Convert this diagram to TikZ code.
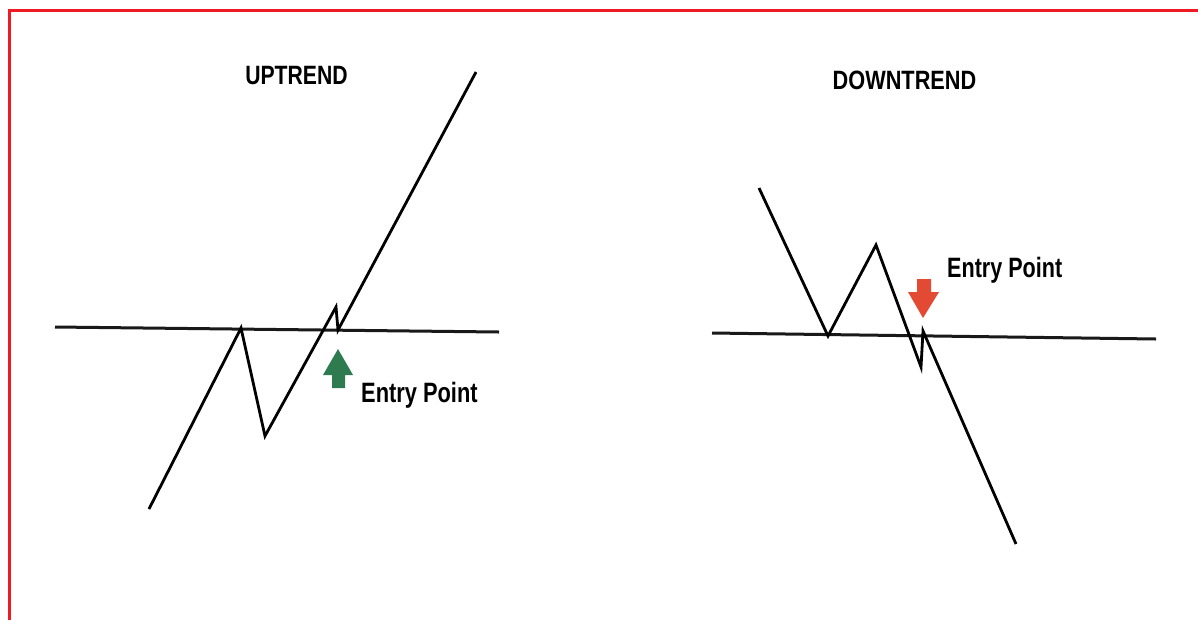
\documentclass[tikz,border=0pt]{standalone}
\usepackage{fontspec}
\setmainfont{Liberation Sans}
\definecolor{frame}{HTML}{F01A22}
\definecolor{upgreen}{HTML}{2E7B50}
\definecolor{downred}{HTML}{E24A33}
\begin{document}
\begin{tikzpicture}[x=1pt,y=-1pt,
  trend/.style={line width=2.8pt,line join=miter,black},
  level/.style={line width=3pt,black!90},
  title/.style={inner sep=0pt,font=\bfseries\fontsize{26.5}{30}\selectfont},
  entry/.style={inner sep=0pt,anchor=base west,font=\bfseries\fontsize{28}{32}\selectfont}]
\useasboundingbox (0,0) rectangle (1198,619);
\fill[white] (0,0) rectangle (1198,619);
% frame
\draw[frame,line width=3pt] (9,625) -- (9,10) -- (1205,10);
% uptrend
\coordinate (ua) at (149,509);
\coordinate (ub) at (241,328);
\coordinate (uc) at (265,436);
\coordinate (ud) at (336,307);
\coordinate (ue) at (338,330);
\coordinate (uf) at (476,72);
\coordinate (ul1) at (55,327);
\coordinate (ul2) at (499,332);
\draw[level] (ul1) -- (ul2);
\draw[trend] (ua) -- (ub) -- (uc) -- (ud) -- (ue) -- (uf);
\fill[upgreen] (338,349) -- (353,375) -- (345,375) -- (345,388) -- (332,388) -- (332,375) -- (323,375) -- cycle;
\node[title,anchor=base] (ut) at (296.5,84) {\scalebox{0.8}[1]{UPTREND}};
\node[entry] (ue1) at (361,402) {\scalebox{0.78}[1]{Entry Point}};
% downtrend
\coordinate (da) at (759,188);
\coordinate (db) at (828,336);
\coordinate (dc) at (876,245);
\coordinate (dd) at (921,367);
\coordinate (de) at (923,331);
\coordinate (df) at (1016,544);
\coordinate (dl1) at (712,333);
\coordinate (dl2) at (1156,339);
\draw[level] (dl1) -- (dl2);
\draw[trend] (da) -- (db) -- (dc) -- (dd) -- (de) -- (df);
\fill[downred] (923,318) -- (939,292) -- (931,292) -- (931,279) -- (917,279) -- (917,292) -- (908,292) -- cycle;
\node[title,anchor=base] (dt) at (904.5,89) {\scalebox{0.82}[1]{DOWNTREND}};
\node[entry] (de1) at (947,277) {\scalebox{0.77}[1]{Entry Point}};
\end{tikzpicture}
\end{document}
